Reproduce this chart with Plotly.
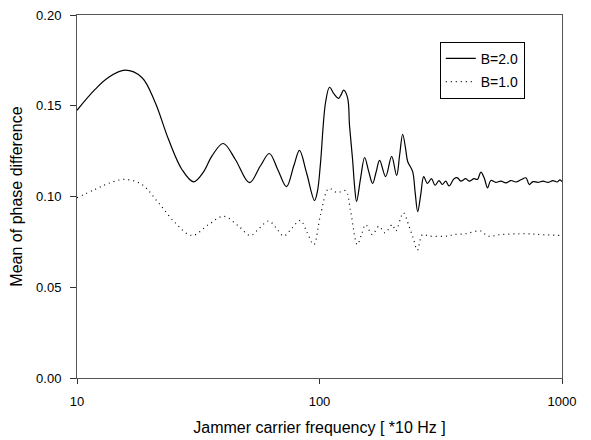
import plotly.graph_objects as go

# Jammer carrier frequency (units of 10 Hz) and mean phase difference, B = 2.0
freq_b2 = [10.0, 11.87, 13.47, 15.79, 18.51, 21.01, 23.84, 27.08, 30.24, 33.26,
           36.03, 40.1, 44.97, 51.4, 57.03, 62.1, 67.25, 73.1, 78.31, 82.7,
           88.37, 95.4, 98.1, 100.9, 105.9, 110.0, 114.8, 119.8, 122.7, 125.7,
           130.5, 133.0, 136.9, 139.5, 142.2, 147.7, 153.5, 159.4, 165.6, 171.2,
           177.0, 187.4, 198.4, 208.0, 214.1, 220.3, 226.7, 231.0, 242.0, 248.1,
           254.0, 261.5, 269.0, 278.6, 289.5, 299.5, 311.0, 321.0, 331.7, 342.0,
           359.0, 370.7, 382.4, 401.0, 414.0, 434.0, 448.0, 462.8, 477.5, 493.0,
           508.8, 533.6, 559.8, 587.0, 615.6, 645.7, 677.0, 710.0, 732.8, 759.0,
           796.0, 835.0, 875.0, 918.0, 953.5, 981.0, 1000.0]
mean_b2 = [0.1475, 0.1590, 0.1656, 0.1696, 0.1656, 0.1518, 0.1315, 0.1149, 0.1081, 0.1136,
           0.1224, 0.1292, 0.1204, 0.1076, 0.1168, 0.1237, 0.1149, 0.1054, 0.1168, 0.1254,
           0.1132, 0.0978, 0.1030, 0.1180, 0.1518, 0.1602, 0.1565, 0.1541, 0.1560, 0.1586,
           0.1545, 0.1390, 0.1204, 0.1058, 0.0972, 0.1100, 0.1215, 0.1140, 0.1072, 0.1135,
           0.1199, 0.1110, 0.1221, 0.1116, 0.1230, 0.1343, 0.1260, 0.1193, 0.1138, 0.1020,
           0.0917, 0.1010, 0.1110, 0.1072, 0.1099, 0.1062, 0.1088, 0.1066, 0.1085, 0.1058,
           0.1098, 0.1103, 0.1085, 0.1098, 0.1085, 0.1098, 0.1094, 0.1134, 0.1103, 0.1048,
           0.1088, 0.1078, 0.1085, 0.1075, 0.1088, 0.1080, 0.1092, 0.1103, 0.1066, 0.1082,
           0.1078, 0.1085, 0.1078, 0.1088, 0.1080, 0.1092, 0.1082]

# Same measurement, B = 1.0
freq_b1 = [10.0, 11.87, 13.47, 15.79, 18.51, 21.68, 25.41, 29.78, 34.88, 40.23,
           46.41, 51.87, 56.5, 61.72, 66.4, 71.21, 76.9, 83.47, 89.0, 94.71,
           101.0, 109.2, 118.4, 128.1, 134.3, 143.2, 149.0, 155.0, 165.1, 175.8,
           186.2, 199.7, 206.1, 221.8, 233.9, 243.5, 253.3, 265.7, 282.9, 337.1,
           358.9, 401.1, 462.8, 493.2, 559.8, 710.0, 819.0, 1000.0]
mean_b1 = [0.0993, 0.1039, 0.1072, 0.1094, 0.1066, 0.0965, 0.0855, 0.0785, 0.0845, 0.0891,
           0.0836, 0.0785, 0.0825, 0.0865, 0.0825, 0.0782, 0.0825, 0.0868, 0.0800, 0.0735,
           0.0900, 0.1043, 0.1021, 0.1032, 0.0919, 0.0735, 0.0790, 0.0845, 0.0790, 0.0836,
           0.0800, 0.0845, 0.0810, 0.0910, 0.0836, 0.0770, 0.0704, 0.0790, 0.0782, 0.0782,
           0.0790, 0.0795, 0.0810, 0.0782, 0.0790, 0.0795, 0.0790, 0.0785]

x_ticks = [10, 100, 1000]
x_tick_labels = ["10", "100", "1000"]

FONT = "Liberation Sans, Arial, sans-serif"

fig = go.Figure()
fig.add_trace(go.Scatter(
    x=freq_b2, y=mean_b2, mode="lines", name="B=2.0", legendgroup="b2",
    line=dict(color="black", width=1.2, shape="spline", smoothing=1.0),
))
fig.add_trace(go.Scatter(
    x=freq_b1, y=mean_b1, mode="lines", name="B=1.0", legendgroup="b1",
    line=dict(color="black", width=1.2, dash="1px,4px", shape="spline", smoothing=1.0),
))

tick_font = dict(family=FONT, size=13, color="black")
title_font = dict(family=FONT, size=16, color="black")

fig.update_layout(
    width=591, height=440,
    margin=dict(l=77, r=29, t=15, b=62),
    paper_bgcolor="white", plot_bgcolor="white",
    showlegend=True,
    legend=dict(
        x=0.748, y=0.926, xanchor="left", yanchor="top",
        bordercolor="black", borderwidth=1, bgcolor="white",
        font=dict(family=FONT, size=14, color="black"),
        tracegroupgap=2,
    ),
)
fig.update_xaxes(
    type="log", range=[1, 3], automargin=False,
    tickvals=x_ticks, ticktext=x_tick_labels,
    ticks="outside", ticklen=5, tickcolor="#333333",
    ticklabelstandoff=6,
    showline=True, linecolor="#555555", linewidth=1, mirror=True,
    showgrid=False, zeroline=False,
    tickfont=tick_font,
    title=dict(text="Jammer carrier frequency [ *10 Hz ]", font=title_font, standoff=14),
)
fig.update_yaxes(
    range=[0, 0.2], dtick=0.05, tickformat=".2f", automargin=False,
    ticks="outside", ticklen=6, tickcolor="#333333",
    ticklabelstandoff=6,
    showline=True, linecolor="#555555", linewidth=1, mirror=True,
    showgrid=False, zeroline=False,
    tickfont=tick_font,
    title=dict(text="Mean of phase difference", font=title_font, standoff=9),
)

fig.write_html("out.html")
